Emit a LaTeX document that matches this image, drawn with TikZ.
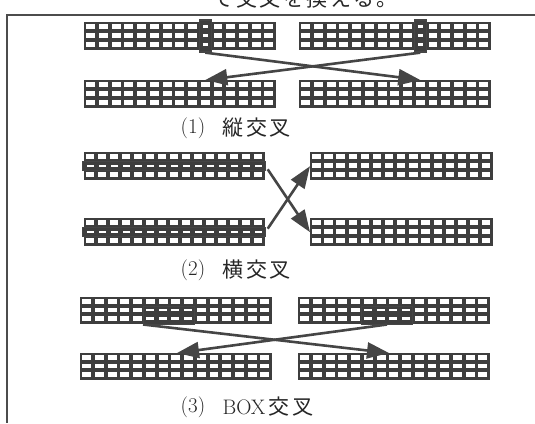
\documentclass[tikz,border=0pt]{standalone}
\usepackage{fontspec}
\newfontfamily\jp[LetterSpace=12]{Noto Sans CJK JP}
\usetikzlibrary{positioning,arrows.meta,calc}
\definecolor{blockgray}{HTML}{3E3E3E}
\definecolor{inkgray}{HTML}{454545}

% one block of 15 x 3 cells: name, x, y, width, height
\newcommand{\cellgrid}[5]{%
  \node[cellbox, minimum width=#4pt, minimum height=#5pt] (#1) at (#2,#3) {};
  \pgfmathsetmacro{\cpitch}{(#4-1)/15}
  \pgfmathsetmacro{\rpitch}{(#5-1.6)/3}
  \foreach \c in {0,...,14}
    \foreach \r in {0,1,2}
      \fill[white] ({#2+2.2+\c*\cpitch},{#3+2.3+\r*\rpitch}) rectangle ++({\cpitch-3.8},{\rpitch-3.9});
}

\begin{document}
\begin{tikzpicture}[
x=1pt,y=-1pt,
cellbox/.style={anchor=north west,fill=blockgray,inner sep=0pt},
hot/.style={draw=inkgray,line width=1.3pt,fill=blockgray,inner sep=0pt},
conn/.style={draw=inkgray,line width=2.6pt,-{Triangle[length=22pt,width=16pt]}},
lbl/.style={inner sep=0pt,text=black!85,font=\fontsize{21}{24}\selectfont},
frame/.style={draw=black!70,line width=1.8pt}
]
\useasboundingbox (0,0) rectangle (535,423);

% page rest
\node[lbl, anchor=base east] (cut) at (398,6) {\jp で交叉を換える。};
\coordinate (f1) at (5,15);
\coordinate (f2) at (535,15);
\coordinate (f3) at (7,423);
\draw[frame] (f2) -- (f1 -| f3) -- (f3);

% (1) column crossing
\cellgrid{A1}{84}{22}{192}{28}
\cellgrid{B1}{299}{22}{192}{28}
\cellgrid{C1}{84}{80}{192}{28}
\cellgrid{D1}{299}{80}{192}{28}
\node[hot, minimum width=12pt, minimum height=32pt] (A1col) at (205.3,36) {};
\node[hot, minimum width=12pt, minimum height=32pt] (B1col) at (420.3,36) {};
\foreach \r in {0,1,2} {
  \fill[white] ({205.3-2.5},{25.2+\r*8.8}) rectangle ++(5,3);
  \fill[white] ({420.3-2.5},{25.2+\r*8.8}) rectangle ++(5,3);
}
\coordinate (C1in) at (205.3,80);
\coordinate (D1in) at (420.3,80);
\draw[conn] (A1col.south) -- (D1in);
\draw[conn] (B1col.south) -- (C1in);
\node[lbl] (n1) at (193,128) {(1)};
\node[lbl, right=17pt of n1] (t1) {\jp 縦交叉};

% (2) row crossing
\cellgrid{A2}{84}{152}{181}{28}
\cellgrid{B2}{310}{152}{183}{28}
\cellgrid{C2}{84}{218}{181}{28}
\cellgrid{D2}{310}{218}{183}{28}
\node[hot, line width=0.9pt, minimum width=183pt, minimum height=9pt] (A2row) at (173.5,166) {};
\node[hot, line width=0.9pt, minimum width=183pt, minimum height=9pt] (C2row) at (173.5,232) {};
\foreach \c in {0,...,14} {
  \fill[white] ({86.8+\c*12},164.8) rectangle ++(7,2.4);
  \fill[white] ({86.8+\c*12},230.8) rectangle ++(7,2.4);
}
\draw[conn, shorten <=4pt] (A2row.east) -- (D2.west);
\draw[conn, shorten <=4pt] (C2row.east) -- (B2.west);
\node[lbl] (n2) at (193,270) {(2)};
\node[lbl, right=17pt of n2] (t2) {\jp 横交叉};

% (3) box crossing
\cellgrid{A3}{80}{297}{192}{27}
\cellgrid{B3}{298}{297}{192}{27}
\cellgrid{C3}{80}{353}{192}{27}
\cellgrid{D3}{298}{353}{192}{27}
\node[hot, line width=1pt, minimum width=51pt, minimum height=18pt] (A3box) at (169,315) {};
\node[hot, line width=1pt, minimum width=51pt, minimum height=18pt] (B3box) at (387,315) {};
\foreach \c in {0,...,3}
  \foreach \r in {0,1} {
    \fill[white] ({146+\c*12.73},{308.6+\r*8.5}) rectangle ++(8,2.4);
    \fill[white] ({364+\c*12.73},{308.6+\r*8.5}) rectangle ++(8,2.4);
  }
\coordinate (C3in) at (177,353);
\coordinate (D3in) at (389,353);
\draw[conn] (A3box.south west) -- (D3in);
\draw[conn] (B3box.south) -- (C3in);
\node[lbl] (n3) at (193,407) {(3)};
\node[lbl, right=17pt of n3] (t3) {BOX\hspace{3pt}{\jp 交叉}};
\end{tikzpicture}
\end{document}
